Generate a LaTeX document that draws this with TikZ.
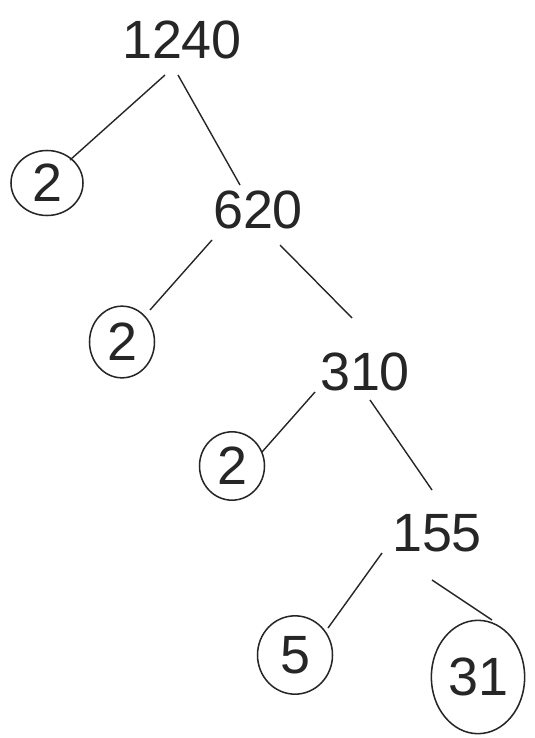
\documentclass[tikz,border=0pt]{standalone}
\usepackage{fontspec}
\setmainfont{Liberation Sans}
\usetikzlibrary{shapes.geometric,calc}
\begin{document}
\begin{tikzpicture}[x=0.03cm,y=-0.03cm,
  num/.style={font=\fontsize{46}{46}\selectfont, inner sep=0pt, text=black!85},
  leaf/.style={draw=black!85, line width=1.3pt, ellipse, inner sep=0pt, font=\fontsize{46}{46}\selectfont, text=black!85},
  br/.style={draw=black!85, line width=1.2pt}]
\fill[white] (0,0) rectangle (534,738);
\useasboundingbox (0,0) rectangle (534,738);
\node[num] (a) at (182,40) {1240};
\node[leaf, minimum width=2.16cm, minimum height=1.95cm] (c1) at (47,183) {2};
\node[num] (b) at (258,210) {620};
\node[leaf, minimum width=1.95cm, minimum height=2.15cm] (c2) at (122,342) {2};
\node[num] (c) at (365,372) {310};
\node[leaf, minimum width=1.95cm, minimum height=2.05cm] (c3) at (232,466) {2};
\node[num] (d) at (437,533) {155};
\node[leaf, minimum width=2.25cm, minimum height=2.35cm] (c4) at (295,655) {5};
\node[leaf, minimum width=2.8cm, minimum height=3.4cm] (c5) at (478,677) {31};
\draw[br] ($(a)+(-17,35)$) -- ($(c1)+(23,-23)$);
\draw[br] ($(a)+(-4,35)$) -- ($(b)+(-18,-25)$);
\draw[br] ($(b)+(-46,30)$) -- ($(c2)+(28,-32)$);
\draw[br] ($(b)+(22,35)$) -- ($(c)+(-13,-54)$);
\draw[br] ($(c)+(-50,20)$) -- ($(c3)+(30,-14)$);
\draw[br] ($(c)+(5,28)$) -- ($(d)+(-5,-43)$);
\draw[br] ($(d)+(-55,20)$) -- ($(c4)+(33,-27)$);
\draw[br] ($(d)+(-5,47)$) -- ($(c5)+(14,-57)$);
\end{tikzpicture}
\end{document}
